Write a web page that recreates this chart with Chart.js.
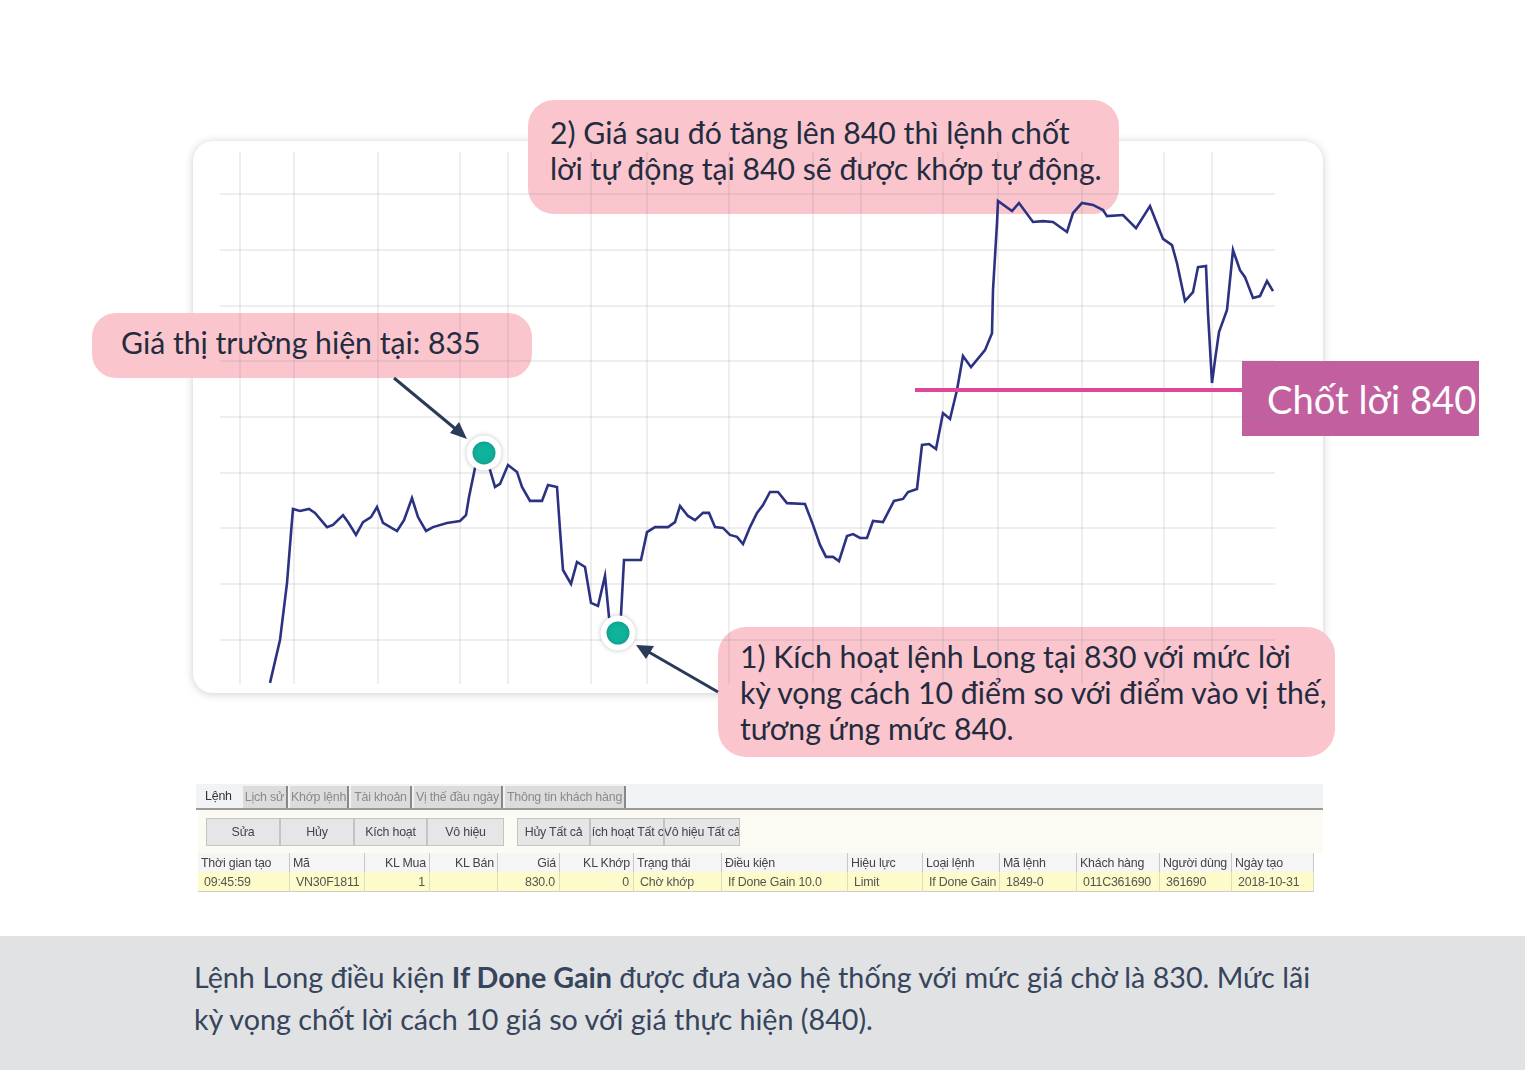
<!DOCTYPE html>
<html lang="vi"><head><meta charset="utf-8">
<script src="https://cdn.jsdelivr.net/npm/chart.js@4"></script>
<style>
html,body{margin:0;padding:0;background:#fff}
body{position:relative;width:1525px;height:1070px;overflow:hidden;font-family:Lato,"Noto Sans",sans-serif;color:#232b3f}
.abs{position:absolute}
#card{left:193px;top:141px;width:1130px;height:552px;border-radius:20px;background:#fff;box-shadow:0 1px 9px rgba(60,60,70,.25)}
.call{position:absolute;background:#fac5cc;font-size:30.2px;line-height:36px;white-space:nowrap;box-sizing:border-box}
#c1{left:528px;top:100px;width:591px;height:114px;border-radius:26px;padding:15px 0 0 22px;line-height:35.5px}
#c2{left:92px;top:313px;width:440px;height:65px;border-radius:24px;padding:11px 0 0 29px}
#c3{left:718px;top:627px;width:617px;height:130px;border-radius:28px;padding:11px 0 0 22px}
#tp{left:1242px;top:361px;width:237px;height:75px;background:#c2609f;color:#fff;font-size:38.2px;line-height:77px;padding-left:25px;box-sizing:border-box;white-space:nowrap}
#cv{position:absolute;left:220px;top:152px}
#foot{left:0;top:936px;width:1525px;height:134px;background:#e1e2e4;font-size:28.7px;line-height:42px;color:#36445c;box-sizing:border-box;padding:20px 0 0 194px;white-space:nowrap}
#tbl{left:196px;top:784px;width:1127px;height:109px;font-family:"Liberation Sans",sans-serif;font-size:12.4px;letter-spacing:-.2px;color:#4a4a4a;filter:blur(.55px);background:#fff}
#tbl div{position:absolute;white-space:nowrap;box-sizing:border-box}
</style></head><body>
<div id="card" class="abs"></div>
<div id="c1" class="call">2) Giá sau đó tăng lên 840 thì lệnh chốt<br>lời tự động tại 840 sẽ được khớp tự động.</div>
<div id="c2" class="call">Giá thị trường hiện tại: 835</div>
<div id="c3" class="call">1) Kích hoạt lệnh Long tại 830 với mức lời<br>kỳ vọng cách 10 điểm so với điểm vào vị thế,<br>tương ứng mức 840.</div>
<div id="tp" class="abs">Chốt lời 840</div>
<canvas id="cv" width="1055" height="532"></canvas>
<svg class="abs" style="left:0;top:0" width="1525" height="1070">
<g stroke="#2b3a58" stroke-width="3" fill="#2b3a58">
<line x1="394" y1="378" x2="458" y2="431"/><polygon points="467,439 450,433 459,422" stroke="none"/>
<line x1="718" y1="692" x2="647" y2="651"/><polygon points="636,645 654,646 646,659" stroke="none"/>
</g></svg>
<div id="tbl" class="abs"></div>
<div id="foot" class="abs">Lệnh Long điều kiện <b>If Done Gain</b> được đưa vào hệ thống với mức giá chờ là 830. Mức lãi<br>kỳ vọng chốt lời cách 10 giá so với giá thực hiện (840).</div>
<script>
// Session position (horizontal) and price level of the traded line
const sessionX = [50,60,67,71,73,80,89,95,107,113,123,128,136,143,151,157,163,177,184,192,198,206,213,227,240,246,249,255,264,270,275,280,288,297,302,310,322,328,337,340,343,351,357,365,371,378,385,389,398,401,404,421,427,435,448,455,460,468,475,483,489,495,503,510,517,523,530,537,543,550,558,567,585,593,600,606,613,619,627,633,640,647,653,663,674,683,688,697,702,709,716,723,730,737,743,751,765,772,773,777,778,792,799,813,823,833,847,853,862,873,883,887,903,916,930,943,952,957,965,973,978,986,988,992,995,999,1007,1013,1020,1025,1033,1040,1047,1053];
const priceLine = [826.46,828.00,830.04,831.84,832.70,832.63,832.70,832.56,832.05,832.13,832.48,832.23,831.77,832.23,832.41,832.77,832.20,831.91,832.30,833.09,832.41,831.91,832.05,832.20,832.27,832.48,833.13,834.17,834.64,834.10,833.49,833.60,834.28,834.03,833.49,832.99,832.99,833.56,833.49,831.95,830.51,830.01,830.80,830.62,829.33,829.22,830.30,828.83,828.25,828.90,830.87,830.87,831.87,832.05,832.05,832.23,832.81,832.45,832.30,832.56,832.56,832.05,832.02,831.77,831.70,831.44,832.05,832.56,832.84,833.31,833.31,832.91,832.88,832.13,831.41,830.98,830.98,830.83,831.73,831.80,831.66,831.66,832.27,832.23,832.99,833.06,833.31,833.42,835.00,835.03,834.85,836.14,835.93,836.97,838.19,837.79,838.40,839.01,840.56,842.96,843.75,843.39,843.68,843.00,843.03,843.00,842.64,843.32,843.68,843.61,843.43,843.21,843.25,842.78,843.57,842.39,842.17,841.52,840.16,840.48,841.38,841.42,839.73,837.22,838.04,839.05,839.84,841.99,841.27,841.02,840.27,840.34,840.88,840.52];
// Take-profit level line
const takeProfitX = [695,1022];
const takeProfitY = [836.97,836.97];
// Event markers
const markerX = [264,398];
const markerY = [834.71,828.25];
// Grid positions
const gridX = [20,74,158,240,288,371,427,509,593,641,723,778,862,944,992];
const gridY = [828,830,832,834,836,838,840,842,844];
const xMin = 0, xMax = 1055, yMin = 826.42, yMax = 845.51;

const toPts = (xs,ys)=>xs.map((x,i)=>({x,y:ys[i]}));
const markerShadow = {id:'markerShadow',
  beforeDatasetDraw(c,a){ if(a.index===2){c.ctx.save();c.ctx.shadowColor='rgba(40,40,60,.25)';c.ctx.shadowBlur=5;} },
  afterDatasetDraw(c,a){ if(a.index===2){c.ctx.restore();} }};
const gridStyle = {color:'rgba(120,120,135,.13)',lineWidth:2,drawTicks:false};
new Chart(document.getElementById('cv'),{
  type:'scatter',
  data:{datasets:[
    {data:toPts(sessionX,priceLine),showLine:true,borderColor:'#2c3282',borderWidth:2.6,pointRadius:0,tension:0,clip:false,order:2},
    {data:toPts(takeProfitX,takeProfitY),showLine:true,borderColor:'#e0479b',borderWidth:4,pointRadius:0,clip:false,order:1},
    {data:toPts(markerX,markerY),showLine:false,pointRadius:14.5,pointBackgroundColor:'#0fb39b',pointBorderColor:'#fff',pointBorderWidth:6,clip:false,order:0}
  ]},
  plugins:[markerShadow],
  options:{responsive:false,animation:false,devicePixelRatio:1,layout:{padding:0,autoPadding:false},
    plugins:{legend:{display:false},tooltip:{enabled:false}},
    scales:{
      x:{type:'linear',min:xMin,max:xMax,afterBuildTicks:a=>{a.ticks=gridX.map(value=>({value}))},
         ticks:{display:false},border:{display:false},grid:gridStyle},
      y:{type:'linear',min:yMin,max:yMax,afterBuildTicks:a=>{a.ticks=gridY.map(value=>({value}))},
         ticks:{display:false},border:{display:false},grid:gridStyle}
    }}
});

// Order panel
const tabs = ['Lịch sử','Khớp lệnh','Tài khoản','Vị thế đầu ngày','Thông tin khách hàng'];
const buttons = ['Sửa','Hủy','Kích hoạt','Vô hiệu','Hủy Tất cả','Kích hoạt Tất cả','Vô hiệu Tất cả'];
const headers = ['Thời gian tạo','Mã','KL Mua','KL Bán','Giá','KL Khớp','Trạng thái','Điều kiện','Hiệu lực','Loại lệnh','Mã lệnh','Khách hàng','Người dùng','Ngày tạo'];
const row = ['09:45:59','VN30F1811','1','','830.0','0','Chờ khớp','If Done Gain 10.0','Limit','If Done Gain','1849-0','011C361690','361690','2018-10-31'];
const T = document.getElementById('tbl');
function box(l,t,w,h,css,txt){const d=document.createElement('div');d.style.cssText=`left:${l-196}px;top:${t-784}px;width:${w}px;height:${h}px;${css}`;if(txt)d.textContent=txt;T.appendChild(d);return d;}
box(196,784,1127,25,'background:#f2f3f5');
box(196,808,1127,2,'background:#9a9a9a');
box(198,810,1125,43,'background:#fbfbf4');
box(205,786,30,20,'line-height:20px;color:#333','Lệnh');
const tabEdges=[[243,288],[290,349],[351,412],[414,503],[505,626]];
tabs.forEach((t,i)=>{const[a,b]=tabEdges[i];box(a,786,b-a,22,'background:#dcdcdc;border-right:2px solid #888;color:#8a8a8a;line-height:22px;display:flex;justify-content:center;overflow:hidden',t)});
const btnEdges=[[206,280],[280,354],[354,427],[427,504],[517,590],[590,664],[664,740]];
buttons.forEach((t,i)=>{const[a,b]=btnEdges[i];box(a,818,b-a,28,'background:#e6e6e6;border:1px solid #c4c4c4;line-height:26px;display:flex;justify-content:center;overflow:hidden;color:#444',t)});
const colLeft=[198,290,365,430,498,560,634,722,848,923,1000,1077,1160,1232];
const colRight=[290,365,430,498,560,634,722,848,923,1000,1077,1160,1232,1314];
const rightAligned=[2,3,4,5];
headers.forEach((t,i)=>{const a=colLeft[i],b=colRight[i],r=rightAligned.includes(i);
  box(a,853,b-a,19,`background:#f5f5f5;border-right:1px solid #c8c8c8;line-height:20px;color:#444;text-align:${r?'right':'left'};padding:0 3px`,t);
  box(a,872,b-a,20,`background:#fdfbc9;border-right:1px solid #dcdcc0;border-bottom:1px solid #ccc;line-height:20px;color:#555;text-align:${r?'right':'left'};padding:0 ${r?4:6}px`,row[i]);
});
</script>
</body></html>
